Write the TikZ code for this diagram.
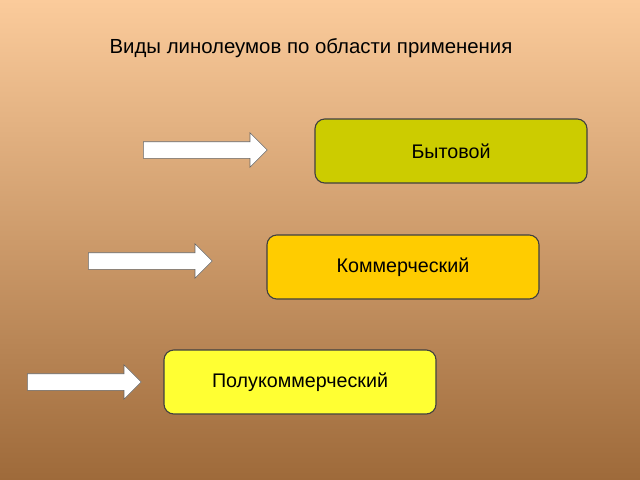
\documentclass[tikz,border=0pt]{standalone}
\usepackage{fontspec}
\setmainfont{Liberation Sans}
\usetikzlibrary{shapes.arrows,positioning}
\definecolor{bgtop}{HTML}{FBCB9B}
\definecolor{bgbot}{HTML}{9E6A3A}
\definecolor{olivey}{HTML}{CCCC00}
\definecolor{gold}{HTML}{FFCC00}
\definecolor{lemon}{HTML}{FFFF33}
\tikzset{kind/.style={rectangle,rounded corners=7pt,draw=black!75,thick,minimum width=272*0.025cm,minimum height=64*0.025cm,font=\fontsize{14}{16}\selectfont}}
\tikzset{pointer/.style={single arrow,draw=black!60,fill=white,minimum height=124*0.025cm,minimum width=34*0.025cm,inner sep=8*0.025cm,single arrow head extend=9*0.025cm,anchor=west}}

\begin{document}
\begin{tikzpicture}[x=0.025cm,y=-0.025cm]
        \shade[top color=bgtop,bottom color=bgbot] (0,0) rectangle (640,480);
        \useasboundingbox (0,0) rectangle (640,480);

        \node[font=\fontsize{14.5}{17}\selectfont] (title) at (311,48) {Виды линолеумов по области применения};

        \node[kind,fill=olivey] (home) at (451,151) {Бытовой};
        \node[kind,fill=gold] (comm) at (403,267) {Коммерческий};
        \node[kind,fill=lemon] (semi) at (300,382) {Полукоммерческий};

        \node[pointer] (a1) at (143,150) {};
        \node[pointer] (a2) at (88,261) {};
        \node[pointer,minimum height=114*0.025cm] (a3) at (27,382) {};
    \end{tikzpicture}
\end{document}
